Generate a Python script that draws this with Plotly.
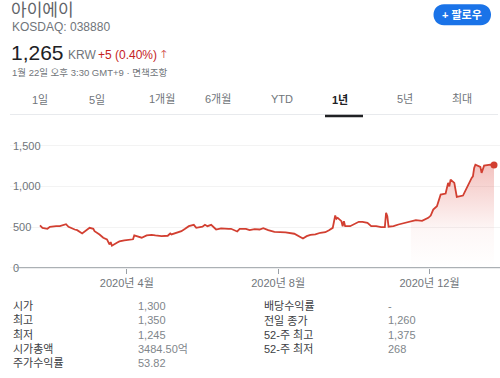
import plotly.graph_objects as go

# ---------------- data ----------------
dates = [
    "2020-01-22", "2020-01-24", "2020-01-28", "2020-01-30", "2020-02-04", "2020-02-07",
    "2020-02-12", "2020-02-14", "2020-02-19", "2020-02-21", "2020-02-25", "2020-02-28",
    "2020-03-02", "2020-03-05", "2020-03-06", "2020-03-10", "2020-03-13", "2020-03-16",
    "2020-03-18", "2020-03-19", "2020-03-20", "2020-03-24", "2020-03-26", "2020-03-30",
    "2020-04-03", "2020-04-06", "2020-04-07", "2020-04-10", "2020-04-13", "2020-04-17",
    "2020-04-21", "2020-04-24", "2020-04-29", "2020-05-04", "2020-05-06", "2020-05-07",
    "2020-05-11", "2020-05-15", "2020-05-18", "2020-05-21", "2020-05-25", "2020-05-27",
    "2020-06-01", "2020-06-03", "2020-06-05", "2020-06-08", "2020-06-12", "2020-06-16",
    "2020-06-22", "2020-06-24", "2020-06-29", "2020-07-01", "2020-07-06", "2020-07-09",
    "2020-07-13", "2020-07-17", "2020-07-20", "2020-07-24", "2020-07-29", "2020-08-03",
    "2020-08-07", "2020-08-14", "2020-08-18", "2020-08-21", "2020-08-24", "2020-08-27",
    "2020-08-31", "2020-09-04", "2020-09-08", "2020-09-10", "2020-09-11", "2020-09-14",
    "2020-09-15", "2020-09-16", "2020-09-17", "2020-09-18", "2020-09-21", "2020-09-22",
    "2020-09-23", "2020-09-24", "2020-09-28", "2020-10-05", "2020-10-08", "2020-10-12",
    "2020-10-15", "2020-10-19", "2020-10-23", "2020-10-26", "2020-10-27", "2020-10-28",
    "2020-10-29", "2020-11-02", "2020-11-06", "2020-11-09", "2020-11-13", "2020-11-16",
    "2020-11-20", "2020-11-25", "2020-11-30", "2020-12-02", "2020-12-04", "2020-12-07",
    "2020-12-10", "2020-12-14", "2020-12-16", "2020-12-17", "2020-12-18", "2020-12-21",
    "2020-12-22", "2020-12-23", "2020-12-28", "2020-12-29", "2020-12-30", "2021-01-04",
    "2021-01-05", "2021-01-06", "2021-01-07", "2021-01-11", "2021-01-12", "2021-01-14",
    "2021-01-19", "2021-01-22",
]
prices = [
    520, 491, 479, 504, 511, 511,
    536, 504, 470, 462, 421, 458,
    491, 479, 450, 409, 369, 348,
    286, 315, 270, 307, 323, 335,
    339, 350, 397, 381, 369, 397,
    405, 397, 388, 393, 421, 409,
    430, 450, 479, 511, 528, 491,
    504, 528, 511, 528, 470, 483,
    479, 479, 446, 479, 479, 462,
    474, 470, 487, 462, 442, 442,
    434, 418, 388, 360, 388, 405,
    409, 430, 437, 450, 462, 491,
    553, 642, 602, 614, 573, 511,
    573, 511, 511, 565, 565, 553,
    511, 511, 499, 499, 676, 634,
    504, 511, 532, 544, 560, 573,
    585, 577, 614, 642, 716, 757,
    900, 913, 1044, 1002, 1085, 1044,
    962, 872, 888, 921, 941, 1106,
    1125, 1229, 1269, 1241, 1167, 1257,
    1269, 1265,
]
fill_from = 95  # index where the shaded area under the line begins (2020-11-16)

x_tick_vals = ["2020-04-01", "2020-08-01", "2020-12-01"]
x_tick_text = ["2020년 4월", "2020년 8월", "2020년 12월"]
y_tick_vals = [0, 500, 1000, 1500]
y_tick_text = ["0", "500", "1,000", "1,500"]

tabs = ["1일", "5일", "1개월", "6개월", "YTD", "1년", "5년", "최대"]
tab_x = [40, 97, 162, 218, 282, 340, 405, 462]

stat_labels_l = ["시가", "최고", "최저", "시가총액", "주가수익률"]
stat_values_l = ["1,300", "1,350", "1,245", "3484.50억", "53.82"]
stat_labels_r = ["배당수익률", "전일 종가", "52-주 최고", "52-주 최저"]
stat_values_r = ["-", "1,260", "1,375", "268"]

# ---------------- styling ----------------
FONT = "Arial, 'Liberation Sans', 'Noto Sans CJK KR', sans-serif"
RED = "#d23f31"
GRAY = "#70757a"
W, H = 500, 378
Y_MIN, Y_MAX = -90, 1757
ML, MR, MT = 10, 0, 125
SCALE = 143 / 1757            # px per unit
MB = 110 - (-Y_MIN) * SCALE   # extend plot below zero so the "0" label fits
PW, PH = W - ML - MR, H - MT - MB


def px(x, y):
    return (x - ML) / PW, (H - MB - y) / PH


fig = go.Figure()

fig.add_trace(go.Scatter(
    x=dates[fill_from:], y=prices[fill_from:], mode="lines",
    line=dict(width=0, color=RED), fill="tozeroy",
    fillgradient=dict(type="vertical", start=0, stop=1300,
                      colorscale=[[0, "rgba(217,60,50,0)"], [0.35, "rgba(217,60,50,0.04)"],
                                  [1, "rgba(217,60,50,0.32)"]]),
    hoverinfo="skip", showlegend=False,
))
fig.add_trace(go.Scatter(
    x=dates, y=prices, mode="lines", line=dict(color=RED, width=1.8),
    showlegend=False,
))
fig.add_trace(go.Scatter(
    x=dates[-1:], y=prices[-1:], mode="markers",
    marker=dict(color=RED, size=7), showlegend=False,
))

annotations = []


def text(x, y, s, size=11, color=GRAY, xanchor="left", bold=False):
    xp, yp = px(x, y)
    annotations.append(dict(
        x=xp, y=yp, xref="paper", yref="paper", text=("<b>%s</b>" % s) if bold else s,
        showarrow=False, xanchor=xanchor, yanchor="middle",
        font=dict(family=FONT, size=size, color=color),
    ))


# header
text(9, 10, "아이에이", size=17, color="#5f6368")
text(10, 27, "KOSDAQ: 038880", size=12, color=GRAY)
text(9, 52.5, "1,265", size=21, color="#202124")
text(66, 55, "KRW", size=12, color=GRAY)
text(96, 55, "+5 (0.40%)", size=12, color="#c5221f")
text(159, 54, "🡑", size=11, color="#c5221f")
text(10, 72, "1월 22일 오후 3:30 GMT+9 · 면책조항", size=9.5, color=GRAY)
text(462, 14.5, "+ 팔로우", size=11, color="white", xanchor="center", bold=True)

for t, tx in zip(tabs, tab_x):
    if t == "1년":
        text(tx, 99, t, size=11, color="#202124", xanchor="center", bold=True)
    else:
        text(tx, 99, t, size=11, color=GRAY, xanchor="center")

rows_y = [306, 320.7, 335, 349.3, 364]
for lab, val, ry in zip(stat_labels_l, stat_values_l, rows_y):
    text(11, ry, lab, size=11, color="#3c4043")
    text(136, ry, val, size=11, color="#80868b")
for lab, val, ry in zip(stat_labels_r, stat_values_r, rows_y):
    text(262, ry, lab, size=11, color="#3c4043")
    text(386, ry, val, size=11, color="#80868b")


def path_from(points_cmds):
    out = []
    for cmd, pts in points_cmds:
        coords = " ".join("%.5f,%.5f" % px(a, b) for a, b in pts)
        out.append(cmd + coords)
    return " ".join(out) + " Z"


# follow button (rounded pill)
bx0, bx1, by0, by1 = 433.5, 491, 4, 25
r = (by1 - by0) / 2
k = 4 / 3 * r
button_path = path_from([
    ("M", [(bx0 + r, by0)]),
    ("L", [(bx1 - r, by0)]),
    ("C", [(bx1 - r + k, by0), (bx1 - r + k, by1), (bx1 - r, by1)]),
    ("L", [(bx0 + r, by1)]),
    ("C", [(bx0 + r - k, by1), (bx0 + r - k, by0), (bx0 + r, by0)]),
])

shapes = [
    dict(type="path", path=button_path, xref="paper", yref="paper",
         fillcolor="#1a73e8", line=dict(width=0), layer="below"),
    # tab separator and active underline
    dict(type="line", xref="paper", yref="paper",
         x0=px(10, 0)[0], x1=px(498, 0)[0], y0=px(0, 114.5)[1], y1=px(0, 114.5)[1],
         line=dict(color="#e8eaed", width=1)),
    dict(type="line", xref="paper", yref="paper",
         x0=px(325, 0)[0], x1=px(363, 0)[0], y0=px(0, 116)[1], y1=px(0, 116)[1],
         line=dict(color="#202124", width=2.5)),
    # baseline of the chart
    dict(type="line", xref="paper", yref="y", x0=px(16, 0)[0], x1=1, y0=0, y1=0,
         line=dict(color="#9aa0a6", width=1), layer="above"),
]

zero_pos = (-Y_MIN) / (Y_MAX - Y_MIN)

fig.update_layout(
    width=W, height=H,
    margin=dict(l=ML, r=MR, t=MT, b=MB, pad=0),
    paper_bgcolor="white", plot_bgcolor="white",
    font=dict(family=FONT, size=11, color=GRAY),
    annotations=annotations, shapes=shapes,
    xaxis=dict(
        type="date", range=["2019-12-28 20:00", "2021-01-26 20:00"],
        anchor="free", position=zero_pos,
        tickvals=x_tick_vals, ticktext=x_tick_text,
        ticks="outside", ticklen=5, tickcolor="#9aa0a6", tickwidth=1,
        showgrid=False, zeroline=False, showline=False,
        tickfont=dict(size=11, color=GRAY, family=FONT),
        fixedrange=True,
    ),
    yaxis=dict(
        range=[Y_MIN, Y_MAX], tickvals=y_tick_vals, ticktext=y_tick_text,
        ticklabelposition="inside", showgrid=True, gridcolor="#f3f3f3", gridwidth=1,
        zeroline=False, showline=False, ticks="",
        tickfont=dict(size=11, color=GRAY, family=FONT),
        fixedrange=True,
    ),
    hovermode=False,
)

fig.write_html(
    "out.html",
    config={"displayModeBar": False},
    post_script="document.body.style.margin='0';document.body.style.overflow='hidden';",
)
